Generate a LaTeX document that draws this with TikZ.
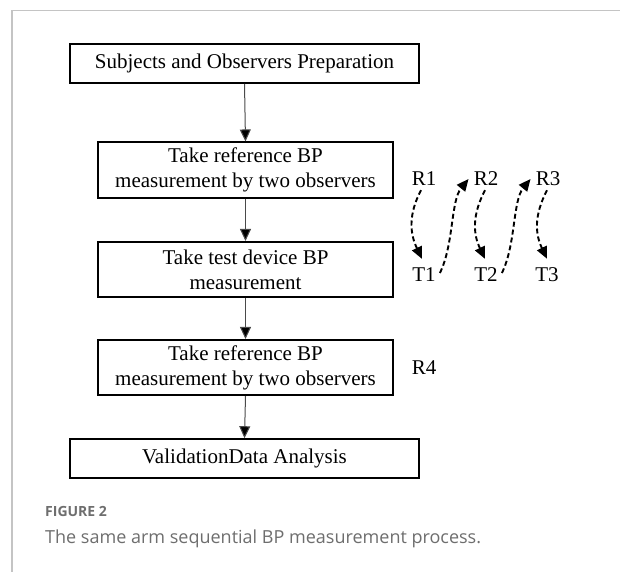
\documentclass[tikz,border=0pt]{standalone}
\usepackage{fontspec}
\setmainfont{Liberation Serif}
\newfontfamily\capfont{Open Sans}
\usetikzlibrary{arrows.meta}
\definecolor{framegray}{HTML}{C4C4C4}
\definecolor{capgray}{HTML}{6E6E6E}
\definecolor{linegray}{HTML}{4A4A4A}
\tikzset{
  flowbox/.style={draw=black, line width=1.6pt, inner sep=0pt, align=center,
    font=\fontsize{21}{25}\selectfont},
  widebox/.style={flowbox, minimum width=349pt, minimum height=39pt},
  narrowbox/.style={flowbox, minimum width=295pt, minimum height=55.5pt},
  flowarrow/.style={draw=linegray, line width=1pt,
    -{Triangle[length=12pt,width=11pt,fill=black]}},
  seqlabel/.style={inner sep=1pt, font=\fontsize{21}{25}\selectfont},
  dasharrow/.style={line width=1.9pt, dash pattern=on 5pt off 3pt,
    -{Triangle[length=12pt,width=10.5pt]}}
}
\begin{document}
\begin{tikzpicture}[x=1pt,y=-1pt]
\useasboundingbox (0,0) rectangle (620,572);
\fill[white] (0,0) rectangle (620,572);
\draw[framegray, line width=1.5pt] (620,10.5) -- (12,10.5) -- (12,572);

\node[widebox]   (b1) at (244.5,63.5) {Subjects and Observers Preparation};
\node[narrowbox] (b2) at (245.5,170) {Take reference BP\\measurement by two observers};
\node[narrowbox] (b3) at (245.5,269.5) {Take test device BP\\measurement};
\node[narrowbox] (b4) at (245.5,367.5) {Take reference BP\\measurement by two observers};
\node[widebox]   (b5) at (244.5,458.5) {ValidationData Analysis};

\draw[flowarrow] (b1.south) -- (b2.north);
\draw[flowarrow] (b2.south) -- (b3.north);
\draw[flowarrow] (b3.south) -- (b4.north);
\draw[flowarrow] (b4.south) -- (b5.north);

\node[seqlabel] (R1) at (424,179) {R1};
\node[seqlabel] (R2) at (486,179) {R2};
\node[seqlabel] (R3) at (548,179) {R3};
\node[seqlabel] (T1) at (424,275) {T1};
\node[seqlabel] (T2) at (486,275) {T2};
\node[seqlabel] (T3) at (547,275) {T3};
\node[seqlabel] (R4) at (424,368) {R4};

\draw[dasharrow] ([xshift=-3pt,yshift=-3pt]R1.south) .. controls +(-13,25) and +(-12,-25) .. ([xshift=-2pt,yshift=8pt]T1.north);
\draw[dasharrow] ([xshift=-1pt,yshift=-3pt]R2.south) .. controls +(-13,25) and +(-12,-25) .. ([xshift=-1pt,yshift=8pt]T2.north);
\draw[dasharrow] ([xshift=-1pt,yshift=-3pt]R3.south) .. controls +(-13,25) and +(-12,-25) .. ([xshift=0pt,yshift=8pt]T3.north);
\draw[dasharrow] ([xshift=3pt,yshift=2pt]T1.east) .. controls +(14,-28) and +(-18,22) .. ([xshift=-4pt]R2.west);
\draw[dasharrow] ([xshift=3pt,yshift=2pt]T2.east) .. controls +(14,-28) and +(-18,22) .. ([xshift=-4pt]R3.west);

\node[anchor=base west, inner sep=0pt, text=capgray, font=\capfont\bfseries\fontsize{14}{16}\selectfont] (figlbl) at (45,516) {FIGURE 2};
\node[anchor=base west, inner sep=0pt, text=capgray, font=\capfont\fontsize{18}{22}\selectfont] (caption) at (45,543) {The same arm sequential BP measurement process.};
\end{tikzpicture}
\end{document}
